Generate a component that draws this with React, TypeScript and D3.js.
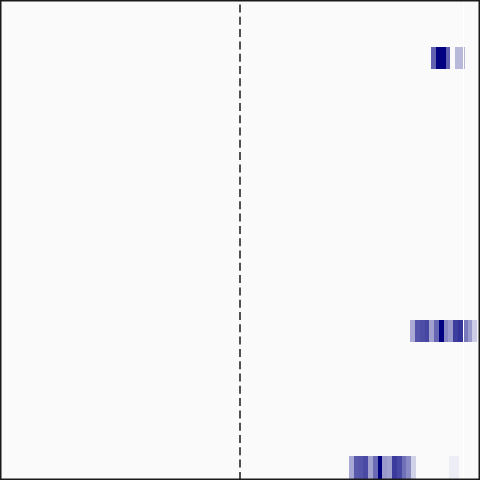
import * as d3 from 'd3';
import React, { useEffect, useRef } from 'react';

const width = 480;
const height = 480;

// 21 rows, 100 columns; only three rows carry values
const rowCount = 21;
const rowIndex = [2, 14, 20];
const rowStart = [90, 85.6, 72.8];
const rowValues = [
    [0.62, 1, 1, 0.62, 0, 0.28, 0.28],
    [0.33, 0.67, 0.7, 0.73, 0.37, 0.6, 1, 0.47, 0.4, 0.76, 0.8, 0.53, 0.4, 0.2],
    [0.34, 0.65, 0.67, 0.71, 0.37, 0.58, 1, 0.4, 0.37, 0.77, 0.72, 0.56, 0.46, 0.18, 0, 0, 0, 0, 0, 0, 0, 0.07, 0.07],
];
const centerLine = 50;
const markerLine = 96.65;

const App = () => {
    const svgRef = useRef(null);

    useEffect(() => {
        const svg = d3.select(svgRef.current);
        svg.selectAll('*').remove();

        const xScale = d3.scaleLinear().domain([0, 100]).range([1, 479]);
        const yScale = d3.scaleBand()
            .domain(d3.range(rowCount))
            .range([1, 479])
            .padding(0);
        const color = d3.interpolateRgb('#ffffff', '#000080');

        svg.append('rect')
            .attr('width', width)
            .attr('height', height)
            .attr('fill', '#fafafa');

        const cells = rowValues.flatMap((vals, r) =>
            vals.map((v, i) => ({ row: rowIndex[r], x: rowStart[r] + i, v }))
        ).filter(d => d.v > 0);

        // snap cell edges to whole pixels so neighbours meet without seams
        svg.append('g')
            .attr('shape-rendering', 'crispEdges')
            .selectAll('rect')
            .data(cells)
            .join('rect')
            .attr('x', d => Math.round(xScale(d.x)))
            .attr('width', d => Math.round(xScale(d.x + 1)) - Math.round(xScale(d.x)))
            .attr('y', d => Math.round(yScale(d.row)))
            .attr('height', d => Math.round(yScale(d.row) + yScale.bandwidth()) - Math.round(yScale(d.row)))
            .attr('fill', d => color(d.v));

        svg.append('line')
            .attr('x1', Math.round(xScale(markerLine)) + 0.5)
            .attr('x2', Math.round(xScale(markerLine)) + 0.5)
            .attr('y1', 0)
            .attr('y2', height)
            .attr('stroke', '#ffffff')
            .attr('stroke-width', 1);

        svg.append('line')
            .attr('x1', xScale(centerLine))
            .attr('x2', xScale(centerLine))
            .attr('y1', 0)
            .attr('y2', height)
            .attr('stroke', '#1a1a1a')
            .attr('stroke-width', 1.5)
            .attr('stroke-dasharray', '8,4.3')
            .attr('stroke-dashoffset', 7.8);

        svg.append('rect')
            .attr('x', 0.75)
            .attr('y', 0.75)
            .attr('width', width - 1.5)
            .attr('height', height - 1.5)
            .attr('fill', 'none')
            .attr('stroke', '#1a1a1a')
            .attr('stroke-width', 1.5);
    }, []);

    return (
        <svg ref={svgRef} width={width} height={height}
            style={{ position: 'absolute', left: 0, top: 0 }}>
        </svg>
    );
};

export default App;
